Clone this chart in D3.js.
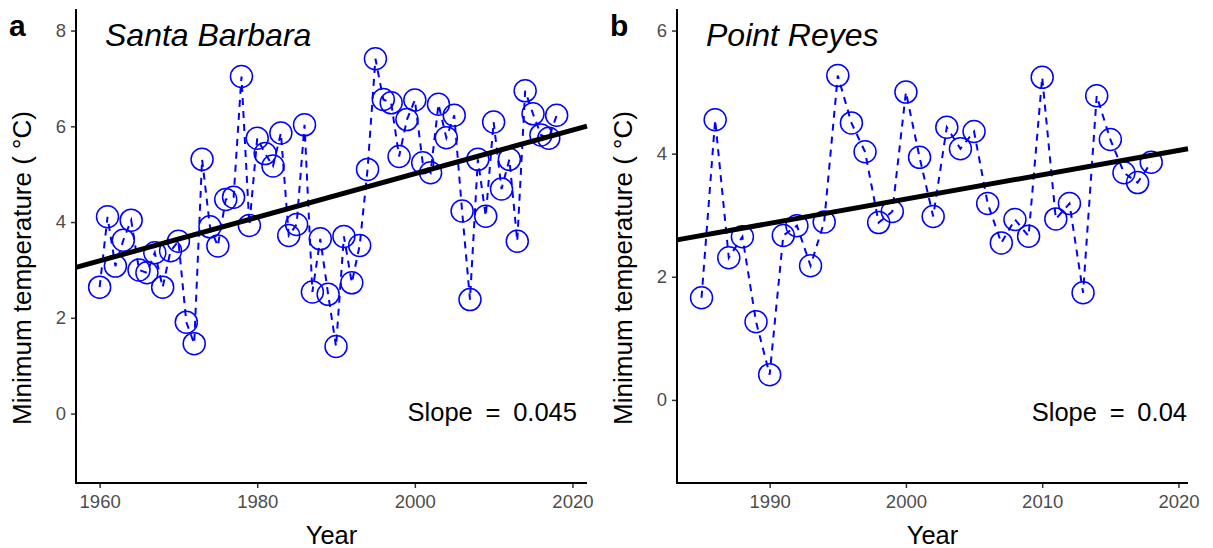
<!DOCTYPE html>
<html><head><meta charset="utf-8">
<script src="https://cdn.jsdelivr.net/npm/d3@7"></script>
<style>
body{margin:0;background:#fff;}
svg{display:block;font-family:"Liberation Sans",Arial,sans-serif;}
</style></head><body>
<svg id="c" width="1213" height="548"></svg>
<script>
// ---- Data ----
const yearsSB = d3.range(1960, 2019);
const tempSB = [2.64,4.11,3.08,3.62,4.04,3.00,2.94,3.36,2.64,3.40,3.60,1.91,1.46,5.31,3.90,3.50,4.47,4.52,7.04,3.93,
  5.75,5.43,5.17,5.86,3.72,3.95,6.03,2.54,3.65,2.49,1.40,3.70,2.73,3.51,5.10,7.41,6.56,6.49,5.37,6.14,
  6.55,5.24,5.03,6.46,5.76,6.23,4.23,2.38,5.31,4.12,6.09,4.69,5.31,3.60,6.74,6.26,5.82,5.75,6.23];
const yearsPR = d3.range(1985, 2019);
const tempPR = [1.66,4.55,2.31,2.65,1.27,0.41,2.67,2.83,2.18,2.89,5.27,4.50,4.03,2.88,3.06,5.00,3.94,2.98,4.43,4.08,
  4.36,3.19,2.55,2.93,2.66,5.24,2.94,3.19,1.74,4.94,4.23,3.69,3.53,3.86];
const trendSB = {x0: 1960, y0: 3.19, slope: 0.0455};
const trendPR = {x0: 1985, y0: 2.67, slope: 0.0395};
const ticksXSB = [1960, 1980, 2000, 2020];
const ticksYSB = [0, 2, 4, 6, 8];
const ticksXPR = [1990, 2000, 2010, 2020];
const ticksYPR = [0, 2, 4, 6];
const panels = [
  {tag:"a", title:"Santa Barbara", slope:"0.045", years:yearsSB, temps:tempSB, trend:trendSB,
   xDom:[1957.0, 2021.85], yDom:[-1.45, 8.45], xt:ticksXSB, yt:ticksYSB, left:76, right:587, slopeX:577},
  {tag:"b", title:"Point Reyes", slope:"0.04", years:yearsPR, temps:tempPR, trend:trendPR,
   xDom:[1983.2, 2020.7], yDom:[-1.35, 6.35], xt:ticksXPR, yt:ticksYPR, left:677, right:1188, slopeX:1187}
];

const svg = d3.select("#c");
const plotTop = 9, plotBottom = 483;

panels.forEach(p => {
  const x = d3.scaleLinear().domain(p.xDom).range([p.left, p.right]);
  const y = d3.scaleLinear().domain(p.yDom).range([plotBottom, plotTop]);
  const g = svg.append("g");
  const pts = p.years.map((yr, i) => ({yr, t: p.temps[i]}));

  // circles
  g.selectAll("circle").data(pts).join("circle")
    .attr("cx", d => x(d.yr)).attr("cy", d => y(d.t)).attr("r", 11)
    .attr("fill", "none").attr("stroke", "#0000FF").attr("stroke-width", 1.5);
  // dashed line
  g.append("path").datum(pts)
    .attr("d", d3.line().x(d => x(d.yr)).y(d => y(d.t)))
    .attr("fill", "none").attr("stroke", "#0000FF").attr("stroke-width", 2)
    .attr("stroke-dasharray", "7,6");
  // trend line
  const tl = t => p.trend.y0 + p.trend.slope * (t - p.trend.x0);
  g.append("line")
    .attr("x1", x(p.xDom[0])).attr("y1", y(tl(p.xDom[0])))
    .attr("x2", x(p.xDom[1])).attr("y2", y(tl(p.xDom[1])))
    .attr("stroke", "#000").attr("stroke-width", 5);

  // axes
  const ax = g.append("g").attr("transform", `translate(0,${plotBottom})`)
    .call(d3.axisBottom(x).tickValues(p.xt).tickFormat(d3.format("d")).tickSize(5).tickSizeOuter(0).tickPadding(7));
  const ay = g.append("g").attr("transform", `translate(${p.left},0)`)
    .call(d3.axisLeft(y).tickValues(p.yt).tickSize(5).tickSizeOuter(0).tickPadding(5));
  [ax, ay].forEach(a => {
    a.select(".domain").remove();
    a.selectAll(".tick line").attr("stroke", "#333").attr("stroke-width", 1.5);
    a.selectAll(".tick text").attr("fill", "#4D4D4D").style("font-size", "18.5px")
      .style("font-family", '"Liberation Sans",Arial,sans-serif');
  });
  g.append("line").attr("x1", p.left).attr("x2", p.left).attr("y1", plotTop).attr("y2", plotBottom + 1)
    .attr("stroke", "#000").attr("stroke-width", 2);
  g.append("line").attr("x1", p.left - 1).attr("x2", p.right).attr("y1", plotBottom).attr("y2", plotBottom)
    .attr("stroke", "#000").attr("stroke-width", 2);

  // titles
  g.append("text").attr("x", (p.left + p.right) / 2).attr("y", 544)
    .attr("text-anchor", "middle").style("font-size", "25.5px").text("Year");
  g.append("text").attr("transform", `translate(${p.left - 45},${(plotTop + plotBottom) / 2 + 22}) rotate(-90)`)
    .attr("text-anchor", "middle").style("font-size", "26px").text("Minimum temperature ( °C)");
  g.append("text").attr("x", p.left - 67).attr("y", 36)
    .style("font-size", "30px").style("font-weight", "bold").text(p.tag);
  g.append("text").attr("x", p.left + 29).attr("y", 46)
    .style("font-size", "32px").style("font-style", "italic").text(p.title);
  g.append("text").attr("x", p.slopeX).attr("y", 421).attr("text-anchor", "end")
    .style("font-size", "25.5px").text("Slope\u2002=\u2002" + p.slope);
});
</script>
</body></html>
